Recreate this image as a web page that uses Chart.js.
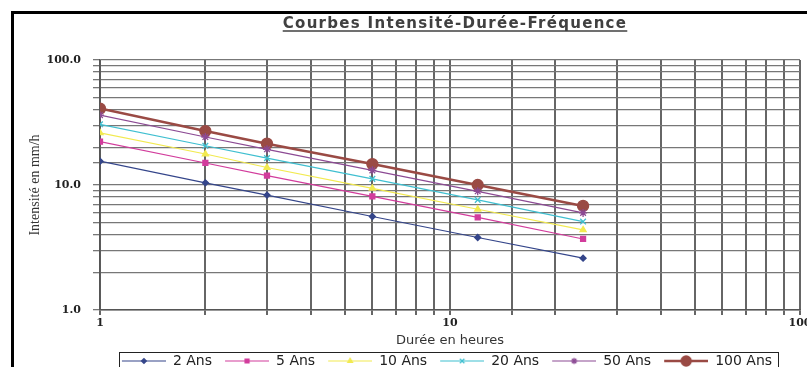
<!DOCTYPE html>
<html>
<head>
<meta charset="utf-8">
<script src="https://cdn.jsdelivr.net/npm/chart.js@4.4.1/dist/chart.umd.min.js"></script>
<style>
  html, body { margin: 0; padding: 0; background: #fff; }
  #wrap { width: 807px; height: 367px; }
</style>
</head>
<body>
<div id="wrap"><canvas id="chart"></canvas></div>
<script>
// durations (hours) and intensities (mm/h) per return period
const durations = [1, 2, 3, 6, 12, 24];
const seriesNames = ['2 Ans', '5 Ans', '10 Ans', '20 Ans', '50 Ans', '100 Ans'];
const i2 = [15.5, 10.4, 8.3, 5.6, 3.8, 2.6];
const i5 = [22.2, 15.0, 11.9, 8.1, 5.5, 3.7];
const i10 = [26.1, 17.7, 13.8, 9.4, 6.4, 4.37];
const i20 = [30.6, 20.6, 16.4, 11.2, 7.6, 5.1];
const i50 = [36.2, 24.2, 19.3, 13.1, 8.9, 5.98];
const i100 = [40.9, 27.0, 21.4, 14.7, 10.0, 6.8];
const xTickLabels = ['1', '10', '100'];
const yTickLabels = ['1.0', '10.0', '100.0'];

const allSeries = [i2, i5, i10, i20, i50, i100];
const colors = ['#34458a', '#d23c9c', '#f2ea50', '#3fbfd0', '#8c4a94', '#9a4a44'];
const styles = ['rectRot', 'rect', 'triangle', 'crossRot', 'star', 'circle'];
const radii = [3, 3.5, 3.5, 4, 4, 5.5];
const widths = [1.2, 1.2, 1.2, 1.2, 1.2, 2.6];

const ICON_W = 56;
const ICON_GAP = 12;
function legendIcon(i) {
  // blank left part gives the gap between legend entries
  const c = document.createElement('canvas');
  c.width = ICON_W; c.height = 12;
  const g = c.getContext('2d');
  g.strokeStyle = colors[i];
  g.fillStyle = colors[i];
  g.lineWidth = widths[i];
  g.beginPath(); g.moveTo(ICON_GAP, 6); g.lineTo(ICON_W, 6); g.stroke();
  Chart.helpers.drawPoint(g, {pointStyle: styles[i], radius: radii[i] * 0.8, borderWidth: 1.3}, ICON_GAP + (ICON_W - ICON_GAP) / 2, 6);
  return c;
}

const datasets = allSeries.map((vals, i) => ({
  label: seriesNames[i],
  data: durations.map((d, k) => ({x: d, y: vals[k]})),
  borderColor: colors[i],
  backgroundColor: colors[i],
  borderWidth: widths[i],
  pointStyle: styles[i],
  pointRadius: radii[i],
  pointBorderWidth: 1.3,
  tension: 0
}));

const frame = {
  id: 'frame',
  afterLayout(chart) {
    // legend row sits a little left of the plot centre in the original
    chart.legend.left -= 9;
    chart.legend.right -= 9;
  },
  beforeDraw(chart) {
    const ctx = chart.ctx;
    ctx.save();
    ctx.fillStyle = '#fff';
    ctx.fillRect(0, 0, chart.width, chart.height);
    ctx.strokeStyle = '#000';
    ctx.lineWidth = 3;
    ctx.strokeRect(12.5, 12.5, 820, 420);
    ctx.restore();
  },
  afterDraw(chart) {
    const ctx = chart.ctx;
    ctx.save();
    ctx.font = 'bold 15px "DejaVu Sans", Arial, sans-serif';
    ctx.letterSpacing = '1.3px';
    ctx.fillStyle = '#404040';
    ctx.textAlign = 'center';
    ctx.textBaseline = 'alphabetic';
    const t = 'Courbes Intensité-Durée-Fréquence';
    const cx = 455, cy = 28;
    ctx.fillText(t, cx, cy);
    const w = ctx.measureText(t).width;
    ctx.strokeStyle = '#404040';
    ctx.lineWidth = 1.3;
    ctx.beginPath();
    ctx.moveTo(cx - w / 2, cy + 3);
    ctx.lineTo(cx + w / 2, cy + 3);
    ctx.stroke();
    ctx.letterSpacing = '0px';
    // legend box
    const boxes = chart.legend.legendHitBoxes;
    if (boxes && boxes.length) {
      const l = boxes[0].left + ICON_GAP - 3;
      const last = boxes[boxes.length - 1];
      const r = last.left + last.width + 6;
      ctx.strokeStyle = '#222';
      ctx.lineWidth = 1;
      ctx.strokeRect(Math.round(l) + 0.5, 352.5, Math.round(r - l), 20);
    }
    ctx.restore();
  }
};

new Chart(document.getElementById('chart'), {
  type: 'line',
  data: {datasets: datasets},
  options: {
    responsive: true,
    maintainAspectRatio: false,
    animation: false,
    layout: {padding: {left: 14, right: 7, top: 60, bottom: -11}},
    plugins: {
      title: {display: false},
      tooltip: {enabled: false},
      legend: {
        position: 'bottom',
        fullSize: false,
        labels: {
          usePointStyle: true,
          pointStyleWidth: ICON_W,
          padding: 1,
          color: '#222',
          font: {family: '"DejaVu Sans", Arial, sans-serif', size: 14},
          generateLabels(chart) {
            return chart.data.datasets.map((ds, i) => ({
              text: ds.label,
              pointStyle: legendIcon(i),
              fillStyle: colors[i],
              strokeStyle: colors[i],
              lineWidth: 0,
              fontColor: '#222',
              datasetIndex: i
            }));
          }
        }
      }
    },
    scales: {
      x: {
        type: 'logarithmic',
        min: 1,
        max: 100,
        afterFit(scale) { scale.paddingRight = 0; scale.paddingLeft = 0; scale.height = 43; },
        grid: {color: '#666', lineWidth: 2, tickLength: 5},
        border: {color: '#555', width: 1.6},
        ticks: {
          autoSkip: false,
          maxRotation: 0,
          color: '#222',
          padding: 2,
          font: {family: '"DejaVu Serif", "Liberation Serif", serif', size: 11, weight: 'bold'},
          callback(v) {
            const idx = [1, 10, 100].indexOf(v);
            return idx >= 0 ? xTickLabels[idx] : '';
          }
        },
        title: {
          display: true,
          text: 'Durée en heures',
          color: '#333',
          padding: {top: 0, bottom: 5},
          font: {family: '"DejaVu Sans", Arial, sans-serif', size: 13}
        }
      },
      y: {
        type: 'logarithmic',
        min: 1,
        max: 100,
        afterFit(scale) { scale.width = 86; },
        grid: {color: '#777', lineWidth: 1.3, tickLength: 7},
        border: {color: '#555', width: 1.6},
        ticks: {
          autoSkip: false,
          color: '#222',
          padding: 12,
          font: {family: '"DejaVu Serif", "Liberation Serif", serif', size: 11, weight: 'bold'},
          callback(v) {
            const idx = [1, 10, 100].indexOf(v);
            return idx >= 0 ? yTickLabels[idx] : '';
          }
        },
        title: {
          display: true,
          text: 'Intensité en mm/h',
          color: '#333',
          padding: {top: 13, bottom: 0},
          font: {family: '"Liberation Serif", "Times New Roman", serif', size: 14}
        }
      }
    }
  },
  plugins: [frame]
});
</script>
</body>
</html>
